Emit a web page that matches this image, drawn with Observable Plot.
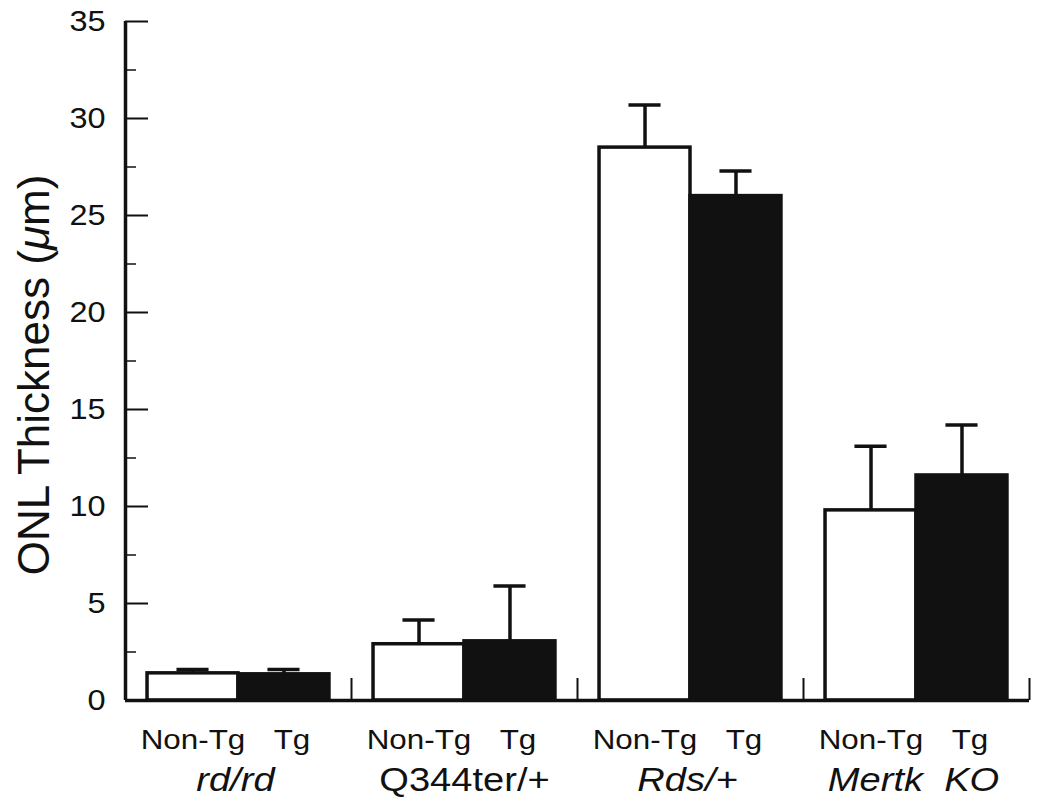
<!DOCTYPE html>
<html>
<head>
<meta charset="utf-8">
<script src="https://cdn.jsdelivr.net/npm/d3@7"></script>
<script src="https://cdn.jsdelivr.net/npm/@observablehq/plot@0.6"></script>
<style>
  html, body { margin: 0; padding: 0; background: #fff; }
  #chart { width: 1050px; height: 811px; }
</style>
</head>
<body>
<div id="chart"></div>
<script>
// ---- Data ----
const groups = ["rd/rd", "Q344ter/+", "Rds/+", "Mertk\u00a0 KO"];
const conditions = ["Non-Tg", "Tg"];
const nonTgMean = [1.4, 2.9, 28.5, 9.8];
const nonTgErr  = [0.2, 1.25, 2.2, 3.3];
const tgMean    = [1.35, 3.05, 26.0, 11.6];
const tgErr     = [0.25, 2.85, 1.3, 2.6];
const yTicks = [0, 5, 10, 15, 20, 25, 30, 35];
const yMinorTicks = [2.5, 7.5, 12.5, 17.5, 22.5, 27.5, 32.5];
const yLabel = "ONL Thickness (μm)";

// ---- Build table ----
const bars = [];
groups.forEach((g, gi) => {
  bars.push({group: g, gi, bi: 0, cond: conditions[0], mean: nonTgMean[gi], err: nonTgErr[gi]});
  bars.push({group: g, gi, bi: 1, cond: conditions[1], mean: tgMean[gi], err: tgErr[gi]});
});
const groupRows = groups.map((g, gi) => ({group: g, gi}));

// ---- Layout constants (in group units) ----
const PAD = 0.0975;
const BW = (1 - 2 * PAD) / 2;
const CAP = 0.071;
const x1 = d => d.gi + PAD + d.bi * BW;
const x2 = d => d.gi + PAD + (d.bi + 1) * BW;
const xc = d => d.gi + PAD + (d.bi + 0.5) * BW;

const W = 1050, H = 811, ML = 125, MR = 21, MT = 21, MB = 111;
const FW = W - ML - MR, FH = H - MT - MB;
const ink = "#111";

const chart = Plot.plot({
  width: W, height: H,
  marginLeft: ML, marginRight: MR, marginTop: MT, marginBottom: MB,
  style: {fontFamily: "'Liberation Sans', Arial, Helvetica, sans-serif", background: "#fff", color: ink},
  x: {domain: [0, groups.length], axis: null},
  y: {domain: [0, 35], axis: null},
  marks: [
    // bars
    Plot.rectY(bars, {x1, x2, y1: 0, y2: "mean", fill: d => d.bi === 0 ? "#fff" : ink, stroke: ink, strokeWidth: 3.5}),
    // error bars (upper only)
    Plot.ruleX(bars, {x: xc, y1: "mean", y2: d => d.mean + d.err, stroke: ink, strokeWidth: 3.5}),
    Plot.ruleY(bars, {x1: d => xc(d) - CAP, x2: d => xc(d) + CAP, y: d => d.mean + d.err, stroke: ink, strokeWidth: 3.5}),
    // baseline and y axis line
    Plot.ruleY([0], {stroke: ink, strokeWidth: 3.5}),
    Plot.ruleX([0], {stroke: ink, strokeWidth: 3.5}),
    // group separator ticks
    Plot.ruleX(d3.range(1, groups.length + 1), {stroke: ink, strokeWidth: 2, insetTop: FH - 22}),
    // inward y ticks
    Plot.ruleY(yTicks, {stroke: ink, strokeWidth: 2, insetRight: FW - 23}),
    Plot.ruleY(yMinorTicks, {stroke: ink, strokeWidth: 1.5, insetRight: FW - 11}),
    // y tick labels
    Plot.axisY(yTicks, {tickSize: 0, tickPadding: 20, fontSize: 29, label: null, tickFormat: d => String(d)}),
    // bar labels
    Plot.text(bars.filter(d => d.bi === 0), {x: xc, y: 0, text: "cond", dy: 48, lineAnchor: "bottom", fontSize: 28, fill: ink}),
    Plot.text(bars.filter(d => d.bi === 1), {x: xc, y: 0, text: "cond", dy: 48, dx: 8, lineAnchor: "bottom", fontSize: 28, fill: ink}),
    // group labels
    Plot.text(groupRows.filter(d => d.gi !== 1), {x: d => d.gi + 0.5, y: 0, text: "group", dy: 90, dx: -3, lineAnchor: "bottom", fontSize: 34, fontStyle: "italic", fill: ink}),
    Plot.text(groupRows.filter(d => d.gi === 1), {x: d => d.gi + 0.5, y: 0, text: "group", dy: 90, lineAnchor: "bottom", fontSize: 34, fill: ink}),
    // y label
    Plot.text([yLabel], {frameAnchor: "left", rotate: -90, dx: -91, dy: 14, fontSize: 44, textAnchor: "middle", lineAnchor: "middle", fill: ink})
  ]
});

document.getElementById("chart").appendChild(chart);

// italic μ in y label; slight horizontal widening of horizontal texts (as in reference)
d3.select(chart).selectAll("text").each(function() {
  if (this.textContent === yLabel) {
    const t = d3.select(this);
    t.text(null);
    t.append("tspan").text("ONL Thickness (");
    t.append("tspan").attr("font-style", "italic").text("μ");
    t.append("tspan").text("m)");
  } else {
    const len = this.getComputedTextLength();
    if (len > 0) {
      this.setAttribute("textLength", (len * 1.12).toFixed(1));
      this.setAttribute("lengthAdjust", "spacingAndGlyphs");
    }
  }
});
</script>
</body>
</html>
